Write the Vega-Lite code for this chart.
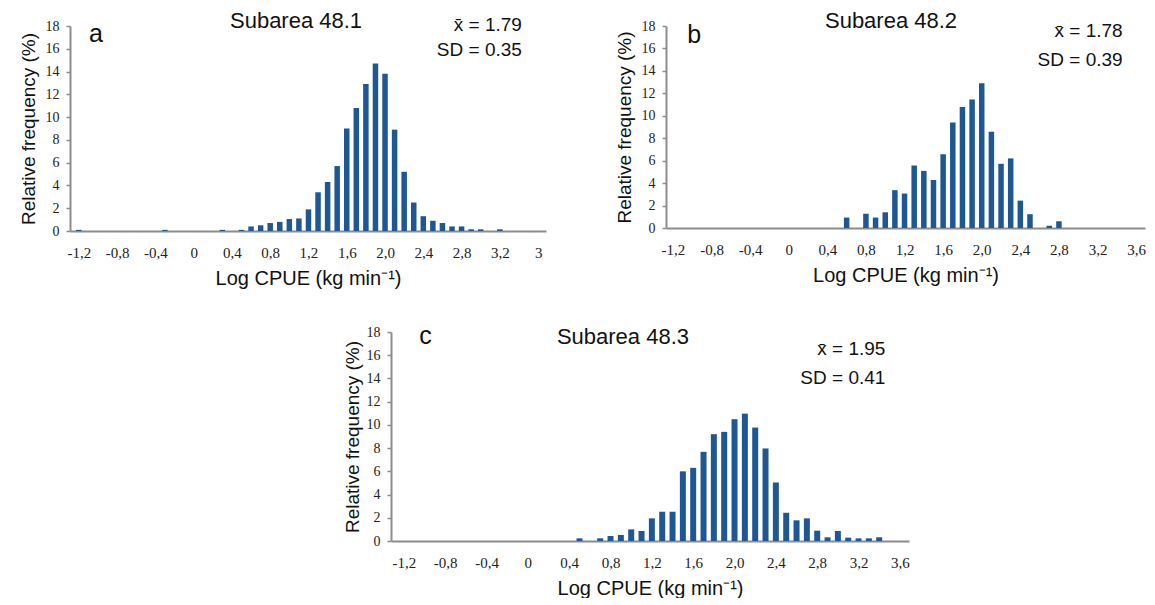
{
  "$schema": "https://vega.github.io/schema/vega-lite/v6.json",
  "padding": {"left": 19, "top": 10, "right": 0, "bottom": 0},
  "datasets": {
    "a": [
      {"logcpue": -1.2, "freq": 0.1}, {"logcpue": -0.3, "freq": 0.1}, {"logcpue": 0.3, "freq": 0.1},
      {"logcpue": 0.5, "freq": 0.1}, {"logcpue": 0.6, "freq": 0.4}, {"logcpue": 0.7, "freq": 0.5},
      {"logcpue": 0.8, "freq": 0.7}, {"logcpue": 0.9, "freq": 0.8}, {"logcpue": 1.0, "freq": 1.05},
      {"logcpue": 1.1, "freq": 1.1}, {"logcpue": 1.2, "freq": 1.9}, {"logcpue": 1.3, "freq": 3.4},
      {"logcpue": 1.4, "freq": 4.3}, {"logcpue": 1.5, "freq": 5.7}, {"logcpue": 1.6, "freq": 9.0},
      {"logcpue": 1.7, "freq": 10.8}, {"logcpue": 1.8, "freq": 12.9}, {"logcpue": 1.9, "freq": 14.7},
      {"logcpue": 2.0, "freq": 13.8}, {"logcpue": 2.1, "freq": 8.9}, {"logcpue": 2.2, "freq": 5.2},
      {"logcpue": 2.3, "freq": 2.5}, {"logcpue": 2.4, "freq": 1.3}, {"logcpue": 2.5, "freq": 0.9},
      {"logcpue": 2.6, "freq": 0.7}, {"logcpue": 2.7, "freq": 0.4}, {"logcpue": 2.8, "freq": 0.4},
      {"logcpue": 2.9, "freq": 0.15}, {"logcpue": 3.0, "freq": 0.15}, {"logcpue": 3.2, "freq": 0.15}
    ],
    "b": [
      {"logcpue": 0.6, "freq": 0.93}, {"logcpue": 0.8, "freq": 1.27}, {"logcpue": 0.9, "freq": 0.93},
      {"logcpue": 1.0, "freq": 1.4}, {"logcpue": 1.1, "freq": 3.37}, {"logcpue": 1.2, "freq": 3.07},
      {"logcpue": 1.3, "freq": 5.57}, {"logcpue": 1.4, "freq": 5.09}, {"logcpue": 1.5, "freq": 4.28},
      {"logcpue": 1.6, "freq": 6.57}, {"logcpue": 1.7, "freq": 9.4}, {"logcpue": 1.8, "freq": 10.78},
      {"logcpue": 1.9, "freq": 11.45}, {"logcpue": 2.0, "freq": 12.9}, {"logcpue": 2.1, "freq": 8.58},
      {"logcpue": 2.2, "freq": 5.72}, {"logcpue": 2.3, "freq": 6.2}, {"logcpue": 2.4, "freq": 2.44},
      {"logcpue": 2.5, "freq": 1.23}, {"logcpue": 2.7, "freq": 0.2}, {"logcpue": 2.8, "freq": 0.6}
    ],
    "c": [
      {"logcpue": 0.5, "freq": 0.23}, {"logcpue": 0.7, "freq": 0.23}, {"logcpue": 0.8, "freq": 0.43},
      {"logcpue": 0.9, "freq": 0.52}, {"logcpue": 1.0, "freq": 1.0}, {"logcpue": 1.1, "freq": 0.86},
      {"logcpue": 1.2, "freq": 1.95}, {"logcpue": 1.3, "freq": 2.52}, {"logcpue": 1.4, "freq": 2.52},
      {"logcpue": 1.5, "freq": 6.0}, {"logcpue": 1.6, "freq": 6.3}, {"logcpue": 1.7, "freq": 7.68},
      {"logcpue": 1.8, "freq": 9.2}, {"logcpue": 1.9, "freq": 9.4}, {"logcpue": 2.0, "freq": 10.49},
      {"logcpue": 2.1, "freq": 10.97}, {"logcpue": 2.2, "freq": 9.77}, {"logcpue": 2.3, "freq": 7.97},
      {"logcpue": 2.4, "freq": 5.04}, {"logcpue": 2.5, "freq": 2.43}, {"logcpue": 2.6, "freq": 1.78},
      {"logcpue": 2.7, "freq": 1.95}, {"logcpue": 2.8, "freq": 0.89}, {"logcpue": 2.9, "freq": 0.32},
      {"logcpue": 3.0, "freq": 0.86}, {"logcpue": 3.1, "freq": 0.29}, {"logcpue": 3.2, "freq": 0.23},
      {"logcpue": 3.3, "freq": 0.23}, {"logcpue": 3.4, "freq": 0.32}
    ]
  },
  "spacing": 35,
  "vconcat": [
    {
      "hconcat": [
        {
          "width": 476, "height": 205,
          "resolve": {"axis": {"x": "independent", "y": "independent"}},
          "layer": [
            {
              "data": {"name": "a"},
              "mark": {"type": "bar", "size": 5.5, "color": "#1e5894"},
              "encoding": {
                "x": {"field": "logcpue", "type": "quantitative", "scale": {"domain": [-1.24, 3.63], "nice": false, "zero": false},
                      "axis": {"title": "Log CPUE (kg min⁻¹)", "labelOverlap": false, "values": [-1.2, -0.8, -0.4, 0, 0.4, 0.8, 1.2, 1.6, 2, 2.4, 2.8, 3.2, 3.6],
                               "labelExpr": "datum.value > 3.5 ? '3' : datum.value == 0 ? '0' : replace(replace(format(datum.value, '.1f'), '.', ','), '−', '-')"}},
                "y": {"field": "freq", "type": "quantitative", "scale": {"domain": [0, 18], "nice": false},
                      "axis": {"title": "Relative frequency (%)", "labelOverlap": false, "values": [0, 2, 4, 6, 8, 10, 12, 14, 16, 18]}}
              }
            },
            {
              "data": {"values": [{"label": "Subarea 48.1"}]},
              "mark": {"type": "text", "font": "Liberation Sans", "fontSize": 22, "align": "center", "baseline": "alphabetic", "color": "#111"},
              "encoding": {"x": {"datum": 1.07, "type": "quantitative", "axis": null}, "y": {"datum": 17.82, "type": "quantitative", "axis": null}, "text": {"field": "label"}}
            },
            {
              "data": {"values": [{"label": "a"}]},
              "mark": {"type": "text", "font": "Liberation Sans", "fontSize": 25, "align": "center", "baseline": "alphabetic", "color": "#111"},
              "encoding": {"x": {"datum": -1.02, "type": "quantitative", "axis": null}, "y": {"datum": 16.6, "type": "quantitative", "axis": null}, "text": {"field": "label"}}
            },
            {
              "data": {"values": [{"label": "x̄ = 1.79"}]},
              "mark": {"type": "text", "font": "Liberation Sans", "fontSize": 19, "align": "right", "baseline": "alphabetic", "color": "#111"},
              "encoding": {"x": {"datum": 3.43, "type": "quantitative", "axis": null}, "y": {"datum": 17.56, "type": "quantitative", "axis": null}, "text": {"field": "label"}}
            },
            {
              "data": {"values": [{"label": "SD = 0.35"}]},
              "mark": {"type": "text", "font": "Liberation Sans", "fontSize": 19, "align": "right", "baseline": "alphabetic", "color": "#111"},
              "encoding": {"x": {"datum": 3.43, "type": "quantitative", "axis": null}, "y": {"datum": 15.36, "type": "quantitative", "axis": null}, "text": {"field": "label"}}
            }
          ]
        },
        {
          "width": 479, "height": 202,
          "resolve": {"axis": {"x": "independent", "y": "independent"}},
          "layer": [
            {
              "data": {"name": "b"},
              "mark": {"type": "bar", "size": 5.5, "color": "#1e5894"},
              "encoding": {
                "x": {"field": "logcpue", "type": "quantitative", "scale": {"domain": [-1.22, 3.64], "nice": false, "zero": false},
                      "axis": {"title": "Log CPUE (kg min⁻¹)", "labelOverlap": false, "values": [-1.2, -0.8, -0.4, 0, 0.4, 0.8, 1.2, 1.6, 2, 2.4, 2.8, 3.2, 3.6],
                               "labelExpr": "datum.value == 0 ? '0' : replace(replace(format(datum.value, '.1f'), '.', ','), '−', '-')"}},
                "y": {"field": "freq", "type": "quantitative", "scale": {"domain": [0, 18], "nice": false},
                      "axis": {"title": "Relative frequency (%)", "labelOverlap": false, "values": [0, 2, 4, 6, 8, 10, 12, 14, 16, 18]}}
              }
            },
            {
              "data": {"values": [{"label": "Subarea 48.2"}]},
              "mark": {"type": "text", "font": "Liberation Sans", "fontSize": 22, "align": "center", "baseline": "alphabetic", "color": "#111"},
              "encoding": {"x": {"datum": 1.06, "type": "quantitative", "axis": null}, "y": {"datum": 17.8, "type": "quantitative", "axis": null}, "text": {"field": "label"}}
            },
            {
              "data": {"values": [{"label": "b"}]},
              "mark": {"type": "text", "font": "Liberation Sans", "fontSize": 25, "align": "center", "baseline": "alphabetic", "color": "#111"},
              "encoding": {"x": {"datum": -0.98, "type": "quantitative", "axis": null}, "y": {"datum": 16.5, "type": "quantitative", "axis": null}, "text": {"field": "label"}}
            },
            {
              "data": {"values": [{"label": "x̄ = 1.78"}]},
              "mark": {"type": "text", "font": "Liberation Sans", "fontSize": 19, "align": "right", "baseline": "alphabetic", "color": "#111"},
              "encoding": {"x": {"datum": 3.46, "type": "quantitative", "axis": null}, "y": {"datum": 17.0, "type": "quantitative", "axis": null}, "text": {"field": "label"}}
            },
            {
              "data": {"values": [{"label": "SD = 0.39"}]},
              "mark": {"type": "text", "font": "Liberation Sans", "fontSize": 19, "align": "right", "baseline": "alphabetic", "color": "#111"},
              "encoding": {"x": {"datum": 3.46, "type": "quantitative", "axis": null}, "y": {"datum": 14.42, "type": "quantitative", "axis": null}, "text": {"field": "label"}}
            }
          ]
        }
      ],
      "spacing": 120,
      "bounds": "flush"
    },
    {
      "hconcat": [
        {
          "width": 321, "height": 1,
          "data": {"values": []},
          "mark": {"type": "point", "opacity": 0},
          "encoding": {}
        },
        {
          "width": 518, "height": 209,
          "resolve": {"axis": {"x": "independent", "y": "independent"}},
          "layer": [
            {
              "data": {"name": "c"},
              "mark": {"type": "bar", "size": 6, "color": "#1e5894"},
              "encoding": {
                "x": {"field": "logcpue", "type": "quantitative", "scale": {"domain": [-1.276, 3.64], "nice": false, "zero": false},
                      "axis": {"title": "Log CPUE (kg min⁻¹)", "labelOverlap": false, "values": [-1.2, -0.8, -0.4, 0, 0.4, 0.8, 1.2, 1.6, 2, 2.4, 2.8, 3.2, 3.6],
                               "labelExpr": "datum.value == 0 ? '0' : replace(replace(format(datum.value, '.1f'), '.', ','), '−', '-')"}},
                "y": {"field": "freq", "type": "quantitative", "scale": {"domain": [0, 18], "nice": false},
                      "axis": {"title": "Relative frequency (%)", "labelOverlap": false, "titlePadding": 4, "values": [0, 2, 4, 6, 8, 10, 12, 14, 16, 18]}}
              }
            },
            {
              "data": {"values": [{"label": "Subarea 48.3"}]},
              "mark": {"type": "text", "font": "Liberation Sans", "fontSize": 22, "align": "center", "baseline": "alphabetic", "color": "#111"},
              "encoding": {"x": {"datum": 0.92, "type": "quantitative", "axis": null}, "y": {"datum": 16.97, "type": "quantitative", "axis": null}, "text": {"field": "label"}}
            },
            {
              "data": {"values": [{"label": "c"}]},
              "mark": {"type": "text", "font": "Liberation Sans", "fontSize": 25, "align": "center", "baseline": "alphabetic", "color": "#111"},
              "encoding": {"x": {"datum": -0.99, "type": "quantitative", "axis": null}, "y": {"datum": 16.97, "type": "quantitative", "axis": null}, "text": {"field": "label"}}
            },
            {
              "data": {"values": [{"label": "x̄ = 1.95"}]},
              "mark": {"type": "text", "font": "Liberation Sans", "fontSize": 19, "align": "right", "baseline": "alphabetic", "color": "#111"},
              "encoding": {"x": {"datum": 3.46, "type": "quantitative", "axis": null}, "y": {"datum": 16.0, "type": "quantitative", "axis": null}, "text": {"field": "label"}}
            },
            {
              "data": {"values": [{"label": "SD = 0.41"}]},
              "mark": {"type": "text", "font": "Liberation Sans", "fontSize": 19, "align": "right", "baseline": "alphabetic", "color": "#111"},
              "encoding": {"x": {"datum": 3.46, "type": "quantitative", "axis": null}, "y": {"datum": 13.5, "type": "quantitative", "axis": null}, "text": {"field": "label"}}
            }
          ]
        }
      ],
      "spacing": 0,
      "bounds": "flush"
    }
  ],
  "config": {
    "view": {"stroke": null},
    "axisX": {
      "grid": false, "ticks": false, "tickSize": 0, "domainColor": "#8c8c8c", "domainWidth": 2,
      "labelFont": "Liberation Serif", "labelFontSize": 15, "labelColor": "#222", "labelPadding": 14, "labelFlush": false, "labelOverlap": false,
      "titleFont": "Liberation Sans", "titleFontSize": 20, "titleFontWeight": "normal", "titleColor": "#111", "titlePadding": 8
    },
    "axisY": {
      "grid": false, "ticks": true, "tickSize": 4, "tickColor": "#8c8c8c", "tickWidth": 1.5, "domainColor": "#8c8c8c", "domainWidth": 2,
      "labelFont": "Liberation Serif", "labelFontSize": 14, "labelColor": "#222", "labelPadding": 7, "labelFlush": false, "labelOverlap": false,
      "titleFont": "Liberation Sans", "titleFontSize": 19, "titleFontWeight": "normal", "titleColor": "#111", "titlePadding": 7
    }
  }
}
